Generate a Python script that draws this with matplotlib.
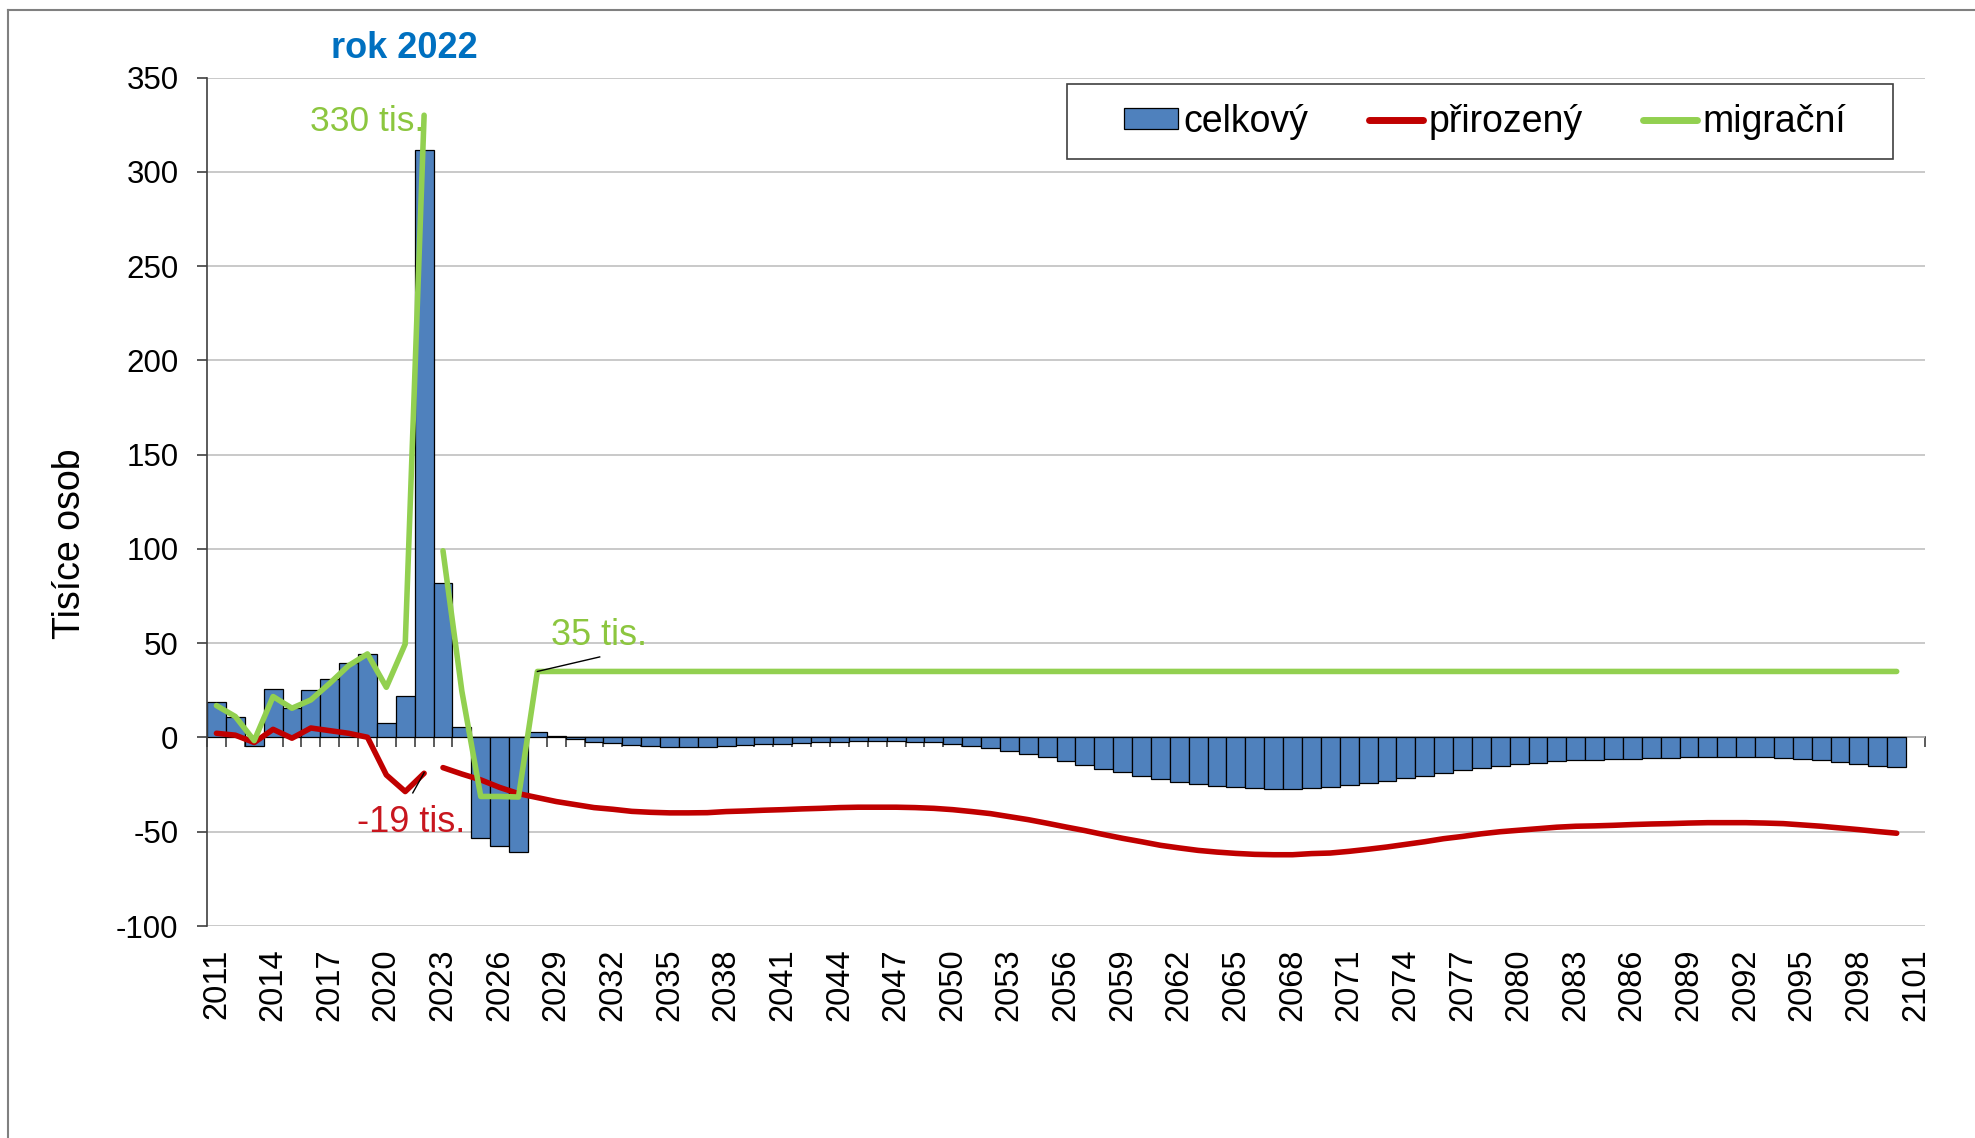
import numpy as np
import matplotlib
matplotlib.use("Agg")
import matplotlib.pyplot as plt
from matplotlib.patches import Patch, Rectangle
from matplotlib.lines import Line2D

plt.rcParams['font.family'] = ['Liberation Sans', 'DejaVu Sans']

# ---------------- data (thousands of persons) ----------------
categories = [str(y) for y in range(2011, 2102)]  # 2011 .. 2101

celkovy = [
    18.7, 10.7, -4.3, 25.6, 15.5, 24.9, 31.1, 39.5, 44.1, 7.7,      # 2011-2020
    21.9, 311.5, 82.0, 5.4, -53.5, -57.8, -61.0, 3.1, 1.0, -0.6,    # 2021-2030
    -2.2, -3.1, -4.2, -4.7, -5.0, -5.0, -4.9, -4.3, -4.0, -3.6,     # 2031-2040
    -3.3, -2.9, -2.6, -2.2, -2.0, -2.0, -2.0, -2.2, -2.6, -3.3,     # 2041-2050
    -4.3, -5.4, -7.0, -8.6, -10.5, -12.5, -14.4, -16.5, -18.5, -20.3,  # 2051-2060
    -22.2, -23.6, -24.9, -25.8, -26.5, -27.0, -27.2, -27.2, -26.6, -26.3,  # 2061-2070
    -25.4, -24.3, -23.1, -21.7, -20.3, -18.7, -17.5, -16.1, -15.0, -14.2,  # 2071-2080
    -13.4, -12.6, -12.1, -11.9, -11.6, -11.2, -10.9, -10.7, -10.4, -10.2,  # 2081-2090
    -10.2, -10.2, -10.4, -10.7, -11.4, -12.1, -13.0, -13.9, -14.9, -15.8,  # 2091-2100
]

# natural change: observed 2011-2022, projection 2023-2100
prirozeny_hist = [2.2, 1.2, -2.7, 4.3, -0.4, 5.0, 3.6, 2.2, 0.1, -19.9, -28.7, -19.0]
prirozeny_proj = [
    -16.0, -19.4, -22.5, -26.5, -29.8, -31.9, -34.0, -35.6,          # 2023-2030
    -37.2, -38.1, -39.2, -39.7, -40.0, -40.0, -39.9, -39.3, -39.0, -38.6,  # 2031-2040
    -38.3, -37.9, -37.6, -37.2, -37.0, -37.0, -37.0, -37.2, -37.6, -38.3,  # 2041-2050
    -39.3, -40.4, -42.0, -43.6, -45.5, -47.5, -49.4, -51.5, -53.5, -55.3,  # 2051-2060
    -57.2, -58.6, -59.9, -60.8, -61.5, -62.0, -62.2, -62.2, -61.6, -61.3,  # 2061-2070
    -60.4, -59.3, -58.1, -56.7, -55.3, -53.7, -52.5, -51.1, -50.0, -49.2,  # 2071-2080
    -48.4, -47.6, -47.1, -46.9, -46.6, -46.2, -45.9, -45.7, -45.4, -45.2,  # 2081-2090
    -45.2, -45.2, -45.4, -45.7, -46.4, -47.1, -48.0, -48.9, -49.9, -50.8,  # 2091-2100
]

# net migration: observed 2011-2022, projection 2023-2100
migracni_hist = [16.9, 11.1, -1.7, 21.7, 15.5, 19.9, 28.7, 38.1, 44.3, 26.6, 49.6, 330.0]
migracni_proj = [
    99.0, 24.5, -31.3, -31.3, -31.6, 35, 35, 35,                     # 2023-2030
    35, 35, 35, 35, 35, 35, 35, 35, 35, 35,                           # 2031-2040
    35, 35, 35, 35, 35, 35, 35, 35, 35, 35,                           # 2041-2050
    35, 35, 35, 35, 35, 35, 35, 35, 35, 35,                           # 2051-2060
    35, 35, 35, 35, 35, 35, 35, 35, 35, 35,                           # 2061-2070
    35, 35, 35, 35, 35, 35, 35, 35, 35, 35,                           # 2071-2080
    35, 35, 35, 35, 35, 35, 35, 35, 35, 35,                           # 2081-2090
    35, 35, 35, 35, 35, 35, 35, 35, 35, 35,                           # 2091-2100
]

y_ticks = [-100, -50, 0, 50, 100, 150, 200, 250, 300, 350]

# ---------------- styles ----------------
BAR_C = '#4F81BD'
RED = '#C00000'
GREEN = '#92D050'
GRID = '#C0C0C0'
AXC = '#404040'

W, H = 1975, 1138
fig = plt.figure(figsize=(W / 100, H / 100), dpi=100)
fig.patch.set_facecolor('white')

ax = fig.add_axes([207 / W, 1 - 926 / H, (1925 - 207) / W, (926 - 77.5) / H])

idx = np.arange(len(categories))
n_hist = len(prirozeny_hist)

ax.bar(idx[:len(celkovy)], celkovy, width=1.0, color=BAR_C,
       edgecolor='black', linewidth=0.9, zorder=2)

line_kw = dict(lw=4.0, solid_capstyle='round', solid_joinstyle='round')
ax.plot(idx[:n_hist], prirozeny_hist, color=RED, zorder=3, **line_kw)
ax.plot(idx[n_hist:n_hist + len(prirozeny_proj)], prirozeny_proj, color=RED, zorder=3, **line_kw)
ax.plot(idx[:n_hist], migracni_hist, color=GREEN, zorder=4, **line_kw)
ax.plot(idx[n_hist:n_hist + len(migracni_proj)], migracni_proj, color=GREEN, zorder=4, **line_kw)

ax.set_xlim(-0.5, len(categories) - 0.5)
ax.set_ylim(y_ticks[0], y_ticks[-1])
ax.set_yticks(y_ticks)
ax.set_yticklabels([str(v) for v in y_ticks])
ax.yaxis.grid(True, color=GRID, lw=1.2)
ax.set_axisbelow(True)

for s in ['top', 'right', 'bottom']:
    ax.spines[s].set_visible(False)
ax.spines['left'].set_color(AXC)
ax.spines['left'].set_linewidth(1.2)
ax.tick_params(axis='y', direction='out', length=7.5, width=1.2, color=AXC,
               labelsize=22.5, pad=13)

ax.set_xticks(idx[::3])
ax.set_xticklabels(categories[::3], rotation=90, ha='center', va='top')
ax.tick_params(axis='x', length=0, labelsize=23.5, pad=16)

# category axis crossing at zero with tick marks between categories
sec = ax.secondary_xaxis(0, transform=ax.transData)
sec.set_xticks(np.arange(len(categories) + 1) - 0.5)
sec.set_xticklabels([])
sec.tick_params(axis='x', direction='out', length=7.5, width=1.2, color=AXC)
for s in sec.spines.values():
    s.set_color(AXC)
    s.set_linewidth(1.2)

# ---------------- annotations ----------------
ax.text(4.95, 321.5, '330 tis.', color='#8CC63F', fontsize=25.5, ha='left', va='baseline', zorder=3)
ax.text(17.7, 49.1, '35 tis.', color='#8CC63F', fontsize=26, ha='left', va='baseline', zorder=5)
ax.plot([17.0, 20.3], [35.0, 42.7], color='black', lw=1.0, zorder=5)
ax.text(7.45, -50.2, '-19 tis.', color='#C8161E', fontsize=26, ha='left', va='baseline', zorder=5)
ax.plot([11.0, 10.4], [-18.7, -29.4], color='black', lw=1.0, zorder=5)

fig.text(404 / W, 1 - 48 / H, 'rok 2022', color='#0070C0', fontsize=26,
         fontweight='bold', ha='center', va='center')

fig.text(70 / W, 1 - 544 / H, 'Tisíce osob', rotation=90, fontsize=27,
         ha='center', va='center')

# ---------------- legend ----------------
fig.patches.append(Rectangle((1067 / W, 1 - 159 / H), 826 / W, 75 / H,
                             transform=fig.transFigure, facecolor='white',
                             edgecolor=AXC, lw=1.2, zorder=5))
handles = [
    Patch(facecolor=BAR_C, edgecolor='black', linewidth=0.9),
    Line2D([], [], color=RED, lw=5, solid_capstyle='round'),
    Line2D([], [], color=GREEN, lw=5, solid_capstyle='round'),
]
leg = fig.legend(handles, ['celkový', 'přirozený', 'migrační'], ncol=3,
                 loc='center', bbox_to_anchor=(1485 / W, 1 - 122 / H),
                 frameon=False, fontsize=27, handlelength=1.45,
                 handleheight=0.5, handletextpad=0.15, columnspacing=1.6,
                 borderpad=0.2)
leg.set_zorder(6)

# outer chart border
fig.add_artist(Line2D([8 / W, 1], [1 - 10 / H, 1 - 10 / H], transform=fig.transFigure,
                      color='#808080', lw=1.5))
fig.add_artist(Line2D([8 / W, 8 / W], [0, 1 - 10 / H], transform=fig.transFigure,
                      color='#808080', lw=1.5))

fig.savefig('out.png', dpi=100, facecolor='white')
